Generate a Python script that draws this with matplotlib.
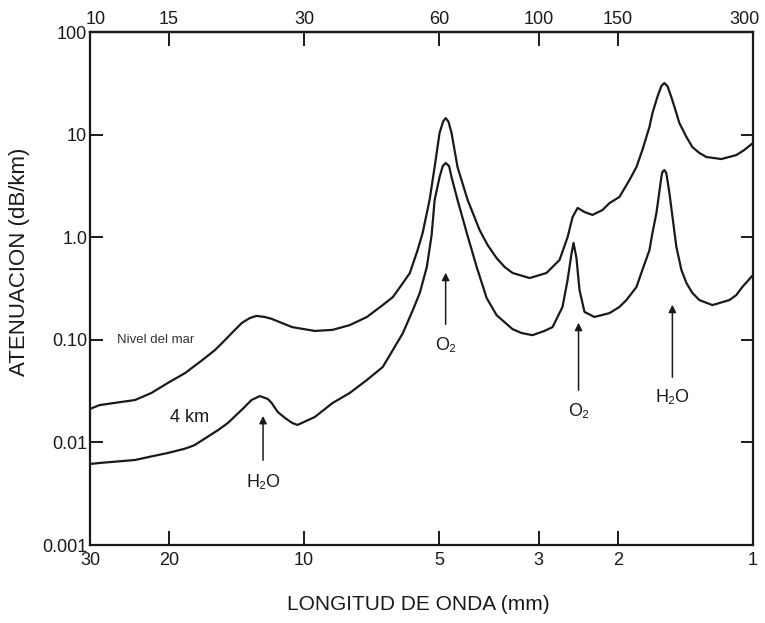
import matplotlib
matplotlib.use('Agg')
import matplotlib.pyplot as plt
import matplotlib.transforms as mtransforms

plt.rcParams['font.family'] = ['Liberation Sans', 'DejaVu Sans']

# ============================================================
# datos (frecuencia GHz, atenuacion dB/km)
# ============================================================
freq_mar = [10.0, 10.5, 12.6, 13.7, 14.9, 16.3, 17.8, 19.0, 20.0, 20.8, 21.8,
            22.7, 23.5, 24.5, 25.4, 28.2, 31.7, 34.7, 37.9, 41.4, 44.9, 47.3,
            49.8, 51.6, 53.7, 55.1, 57.1, 58.6, 60.1, 61.2, 62.0, 62.9, 63.9,
            65.9, 69.4, 73.8, 76.9, 80.5, 83.9, 87.4, 95.4, 104.0, 111.2,
            115.9, 118.9, 122.0, 126.4, 131.7, 138.6, 143.7, 151.2, 159.2,
            165.0, 170.1, 176.4, 179.1, 183.7, 187.5, 190.4, 193.4, 197.3,
            202.5, 205.6, 213.2, 219.8, 227.9, 236.2, 255.0, 275.4, 286.9,
            300.0]
aten_mar = [0.0212, 0.0231, 0.0259, 0.0303, 0.0379, 0.0475, 0.0635, 0.0796,
            0.0996, 0.119, 0.146, 0.163, 0.171, 0.167, 0.160, 0.133, 0.122,
            0.125, 0.139, 0.167, 0.218, 0.261, 0.358, 0.448, 0.750, 1.10, 2.31,
            4.83, 10.4, 13.4, 14.5, 13.4, 10.4, 4.83, 2.31, 1.175, 0.839, 0.627,
            0.513, 0.448, 0.400, 0.448, 0.600, 1.00, 1.57, 1.93, 1.76, 1.65,
            1.84, 2.15, 2.47, 3.61, 4.83, 7.08, 11.9, 16.2, 23.3, 29.8, 31.8,
            29.8, 23.3, 16.2, 13.0, 9.48, 7.57, 6.62, 6.05, 5.78, 6.32, 7.08,
            8.28]

freq_4km = [10.0, 10.5, 12.6, 13.7, 14.9, 16.3, 17.1, 19.3, 20.3, 21.4, 22.1,
            22.9, 23.9, 24.9, 25.4, 26.2, 27.2, 28.2, 29.0, 31.7, 34.7, 37.9,
            41.4, 44.9, 47.3, 49.8, 52.4, 54.3, 56.3, 57.7, 58.6, 60.1, 61.1,
            62.0, 63.1, 63.9, 65.9, 69.1, 72.7, 76.5, 80.5, 87.4, 91.5, 96.8,
            102.9, 107.3, 112.9, 115.9, 118.3, 119.5, 121.3, 123.2, 126.4,
            133.0, 143.7, 151.2, 156.7, 165.0, 170.1, 176.4, 179.1, 182.8,
            187.5, 188.5, 190.4, 192.3, 195.4, 202.5, 207.8, 213.2, 219.8,
            227.9, 243.6, 265.8, 275.4, 284.0, 300.0]
aten_4km = [0.00616, 0.0063, 0.00674, 0.0073, 0.00788, 0.0087, 0.0094, 0.0132,
            0.0155, 0.0193, 0.0221, 0.0259, 0.0283, 0.0265, 0.0242, 0.0198,
            0.0173, 0.0155, 0.0148, 0.0177, 0.0242, 0.0303, 0.0406, 0.0543,
            0.0796, 0.1165, 0.195, 0.286, 0.513, 1.05, 2.31, 3.86, 4.94, 5.29,
            4.94, 3.86, 2.31, 1.10, 0.513, 0.256, 0.174, 0.127, 0.1165, 0.111,
            0.122, 0.133, 0.209, 0.383, 0.701, 0.878, 0.627, 0.306, 0.187,
            0.167, 0.182, 0.209, 0.244, 0.327, 0.479, 0.750, 1.10, 1.72, 3.86,
            4.32, 4.52, 4.22, 2.70, 0.803, 0.479, 0.358, 0.286, 0.244, 0.218,
            0.244, 0.273, 0.327, 0.428]

ticks_ghz = [10, 15, 30, 60, 100, 150, 300]
labels_ghz = ['10', '15', '30', '60', '100', '150', '300']
labels_mm = ['30', '20', '10', '5', '3', '2', '1']
ticks_db = [0.001, 0.01, 0.1, 1, 10, 100]
labels_db = ['0.001', '0.01', '0.10', '1.0', '10', '100']

# flechas: (frecuencia, punta, cola, texto, y del texto)
flechas = [
    (24.3, 0.0193, 0.0063, 'H₂O', 0.0041),
    (62.0, 0.48, 0.133, 'O₂', 0.089),
    (122.6, 0.156, 0.0303, 'O₂', 0.0198),
    (198.4, 0.234, 0.0406, 'H₂O', 0.0271),
]

# ============================================================
# grafica
# ============================================================
fig = plt.figure(figsize=(7.65, 6.23), dpi=100)
ax = fig.add_axes([0.1176, 0.1252, 0.8667, 0.8234])

ax.plot(freq_mar, aten_mar, color='#1a1a1a', lw=1.6)
ax.plot(freq_4km, aten_4km, color='#1a1a1a', lw=1.6)

ax.set_xscale('log')
ax.set_yscale('log')
ax.set_xlim(10, 300)
ax.set_ylim(0.001, 100)
ax.minorticks_off()

ax.set_xticks(ticks_ghz, labels_mm)
ax.set_yticks(ticks_db, labels_db)
ax.tick_params(axis='x', direction='in', length=10, width=1.4, labelsize=13,
               pad=5, colors='#1a1a1a')
ax.tick_params(axis='y', direction='in', length=9, width=1.4, labelsize=13,
               pad=2, right=True, colors='#1a1a1a')
for sp in ax.spines.values():
    sp.set_linewidth(1.6)
    sp.set_color('#1a1a1a')

top = ax.secondary_xaxis('top')
top.set_xticks(ticks_ghz, labels_ghz)
top.minorticks_off()
top.tick_params(direction='in', length=10, width=1.4, labelsize=13, pad=3,
                colors='#1a1a1a')
top.spines['top'].set_linewidth(1.6)

# los extremos del eje superior quedan algo desplazados, como en el original
top_labels = top.get_xticklabels()
top_labels[0].set_transform(top_labels[0].get_transform()
                            + mtransforms.ScaledTranslation(6 / 100, 0, fig.dpi_scale_trans))
top_labels[-1].set_transform(top_labels[-1].get_transform()
                             + mtransforms.ScaledTranslation(-9 / 100, 0, fig.dpi_scale_trans))

ax.text(11.5, 0.0996, 'Nivel del mar', fontsize=9.5, ha='left', va='center',
        color='#333333')
ax.text(16.7, 0.0173, '4 km', fontsize=13, ha='center', va='center',
        color='#1a1a1a')

for f, punta, cola, txt, ytxt in flechas:
    ax.annotate('', xy=(f, punta), xytext=(f, cola),
                arrowprops=dict(arrowstyle='-|>', color='#1a1a1a', lw=1.1,
                                mutation_scale=11))
    ax.text(f, ytxt, txt, fontsize=13, ha='center', va='center',
            color='#1a1a1a')

fig.text(418 / 765, 1 - 605 / 623, 'LONGITUD DE ONDA (mm)', fontsize=15,
         ha='center', va='center', color='#1a1a1a')
fig.text(20 / 765, 1 - 262 / 623, 'ATENUACION (dB/km)', fontsize=16,
         rotation=90, ha='center', va='center', color='#1a1a1a')

fig.savefig('out.png', dpi=100, facecolor='white')
